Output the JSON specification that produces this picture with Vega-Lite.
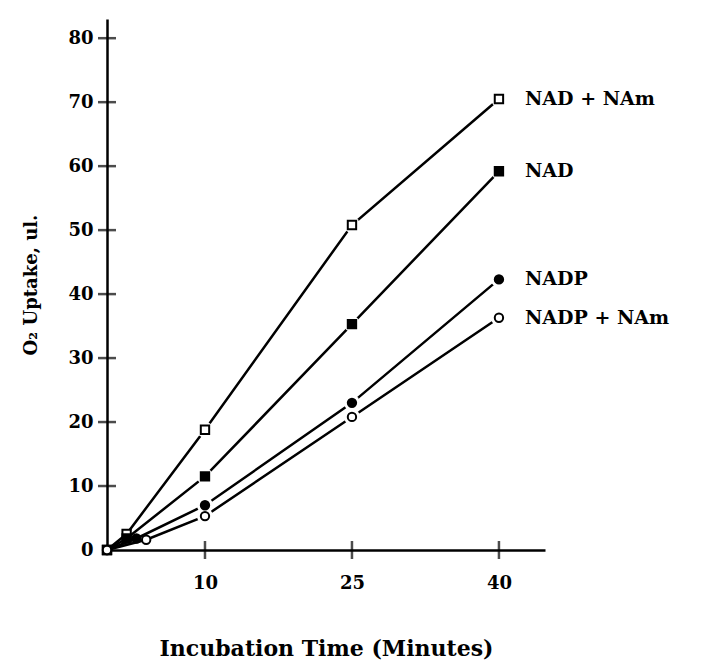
{
  "$schema": "https://vega.github.io/schema/vega-lite/v6.json",
  "width": 438,
  "height": 531,
  "autosize": {"type": "none"},
  "padding": {"left": 107, "top": 19, "right": 172, "bottom": 118},
  "background": "white",
  "config": {
    "view": {"stroke": null},
    "axis": {"grid": false, "domainColor": "black", "domainWidth": 2.5, "ticks": false,
             "labelFont": "DejaVu Serif", "labelFontWeight": "bold", "labelFontSize": 18, "labelColor": "black",
             "titleFont": "DejaVu Serif", "titleFontWeight": "bold", "titleColor": "black"}
  },
  "datasets": {
    "obs": [
      {"series": "NAD + NAm", "time": 0, "uptake": 0},
      {"series": "NAD + NAm", "time": 2, "uptake": 2.5},
      {"series": "NAD + NAm", "time": 10, "uptake": 18.8},
      {"series": "NAD + NAm", "time": 25, "uptake": 50.8},
      {"series": "NAD + NAm", "time": 40, "uptake": 70.5},
      {"series": "NAD", "time": 0, "uptake": 0},
      {"series": "NAD", "time": 2, "uptake": 1.8},
      {"series": "NAD", "time": 10, "uptake": 11.5},
      {"series": "NAD", "time": 25, "uptake": 35.3},
      {"series": "NAD", "time": 40, "uptake": 59.2},
      {"series": "NADP", "time": 0, "uptake": 0},
      {"series": "NADP", "time": 3, "uptake": 1.8},
      {"series": "NADP", "time": 10, "uptake": 7.0},
      {"series": "NADP", "time": 25, "uptake": 23.0},
      {"series": "NADP", "time": 40, "uptake": 42.3},
      {"series": "NADP + NAm", "time": 0, "uptake": 0},
      {"series": "NADP + NAm", "time": 4, "uptake": 1.6},
      {"series": "NADP + NAm", "time": 10, "uptake": 5.3},
      {"series": "NADP + NAm", "time": 25, "uptake": 20.8},
      {"series": "NADP + NAm", "time": 40, "uptake": 36.3}
    ],
    "yticks": [{"v": 10}, {"v": 20}, {"v": 30}, {"v": 40}, {"v": 50}, {"v": 60}, {"v": 70}, {"v": 80}],
    "xticks": [{"v": 10}, {"v": 25}, {"v": 40}]
  },
  "layer": [
    {
      "data": {"name": "obs"},
      "mark": {"type": "line", "color": "black", "strokeWidth": 2.5},
      "encoding": {
        "x": {"field": "time", "type": "quantitative", "scale": {"domain": [0, 44.7], "nice": false},
              "axis": {"values": [10, 25, 40], "title": "Incubation Time (Minutes)", "titleFontSize": 22, "labelPadding": 24, "titlePadding": 46, "labelFlush": false}},
        "y": {"field": "uptake", "type": "quantitative", "scale": {"domain": [0, 83], "nice": false},
              "axis": {"values": [0, 10, 20, 30, 40, 50, 60, 70, 80], "title": "O₂ Uptake, ul.", "titleFontSize": 18, "labelPadding": 14, "titlePadding": 27, "labelFlush": false}},
        "detail": {"field": "series"}
      }
    },
    {
      "data": {"name": "yticks"},
      "mark": {"type": "tick", "orient": "horizontal", "color": "black", "thickness": 2.5, "size": 18},
      "encoding": {"y": {"field": "v", "type": "quantitative"}, "x": {"datum": 0}}
    },
    {
      "data": {"name": "xticks"},
      "mark": {"type": "tick", "orient": "vertical", "color": "black", "thickness": 2.5, "size": 18},
      "encoding": {"x": {"field": "v", "type": "quantitative"}, "y": {"datum": 0}}
    },
    {
      "data": {"name": "obs"},
      "transform": [{"filter": "datum.time >= 10"}],
      "mark": {"type": "point", "shape": "circle", "filled": true, "color": "white", "size": 260, "opacity": 1},
      "encoding": {
        "x": {"field": "time", "type": "quantitative"},
        "y": {"field": "uptake", "type": "quantitative"}
      }
    },
    {
      "data": {"name": "obs"},
      "mark": {"type": "point", "stroke": "black", "strokeWidth": 2, "opacity": 1},
      "encoding": {
        "x": {"field": "time", "type": "quantitative"},
        "y": {"field": "uptake", "type": "quantitative"},
        "shape": {"field": "series", "type": "nominal", "legend": null,
                  "scale": {"domain": ["NAD + NAm", "NAD", "NADP", "NADP + NAm"], "range": ["square", "square", "circle", "circle"]}},
        "fill": {"field": "series", "type": "nominal", "legend": null,
                 "scale": {"domain": ["NAD + NAm", "NAD", "NADP", "NADP + NAm"], "range": ["white", "black", "black", "white"]}},
        "size": {"field": "series", "type": "nominal", "legend": null,
                 "scale": {"domain": ["NAD + NAm", "NAD", "NADP", "NADP + NAm"], "range": [70, 70, 20, 45]}}
      }
    },
    {
      "data": {"name": "obs"},
      "transform": [{"filter": "datum.time == 40"}],
      "mark": {"type": "text", "align": "left", "baseline": "middle", "dx": 26, "font": "DejaVu Serif", "fontSize": 19, "fontWeight": "bold", "color": "black"},
      "encoding": {
        "x": {"field": "time", "type": "quantitative"},
        "y": {"field": "uptake", "type": "quantitative"},
        "text": {"field": "series"}
      }
    }
  ]
}
